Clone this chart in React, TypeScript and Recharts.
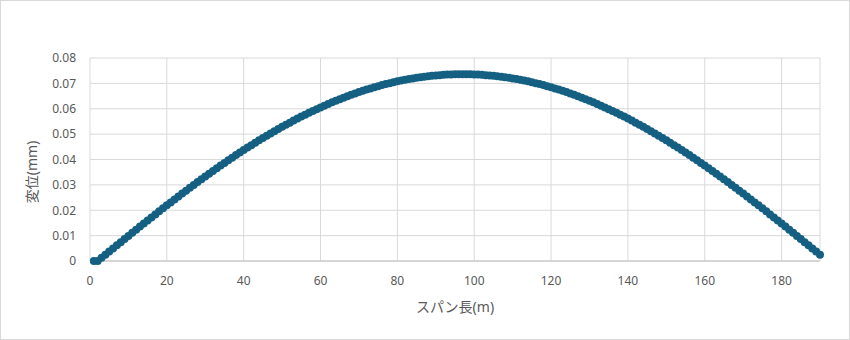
import { ScatterChart, Scatter, XAxis, YAxis, CartesianGrid, ZAxis } from "recharts";

// span stations (m)
const spanX = [
  1, 2, 3, 4, 5, 6, 7, 8, 9, 10, 11, 12, 13, 14, 15, 16, 17, 18, 19, 20,
  21, 22, 23, 24, 25, 26, 27, 28, 29, 30, 31, 32, 33, 34, 35, 36, 37, 38, 39, 40,
  41, 42, 43, 44, 45, 46, 47, 48, 49, 50, 51, 52, 53, 54, 55, 56, 57, 58, 59, 60,
  61, 62, 63, 64, 65, 66, 67, 68, 69, 70, 71, 72, 73, 74, 75, 76, 77, 78, 79, 80,
  81, 82, 83, 84, 85, 86, 87, 88, 89, 90, 91, 92, 93, 94, 95, 96, 97, 98, 99, 100,
  101, 102, 103, 104, 105, 106, 107, 108, 109, 110, 111, 112, 113, 114, 115, 116, 117, 118, 119, 120,
  121, 122, 123, 124, 125, 126, 127, 128, 129, 130, 131, 132, 133, 134, 135, 136, 137, 138, 139, 140,
  141, 142, 143, 144, 145, 146, 147, 148, 149, 150, 151, 152, 153, 154, 155, 156, 157, 158, 159, 160,
  161, 162, 163, 164, 165, 166, 167, 168, 169, 170, 171, 172, 173, 174, 175, 176, 177, 178, 179, 180,
  181, 182, 183, 184, 185, 186, 187, 188, 189, 190,
];

// deflection (mm)
const deflection = [
  0, 0, 0.00124, 0.00248, 0.00372, 0.00495, 0.00619, 0.00742, 0.00865, 0.00988,
  0.01111, 0.01233, 0.01355, 0.01476, 0.01597, 0.01717, 0.01837, 0.01956, 0.02075, 0.02193,
  0.0231, 0.02427, 0.02543, 0.02658, 0.02773, 0.02886, 0.02999, 0.03111, 0.03221, 0.03331,
  0.0344, 0.03548, 0.03655, 0.03761, 0.03865, 0.03969, 0.04071, 0.04173, 0.04273, 0.04371,
  0.04469, 0.04565, 0.0466, 0.04754, 0.04846, 0.04937, 0.05027, 0.05115, 0.05201, 0.05287,
  0.0537, 0.05453, 0.05533, 0.05612, 0.0569, 0.05766, 0.05841, 0.05913, 0.05985, 0.06054,
  0.06122, 0.06188, 0.06253, 0.06316, 0.06377, 0.06436, 0.06494, 0.0655, 0.06604, 0.06656,
  0.06707, 0.06756, 0.06802, 0.06848, 0.06891, 0.06932, 0.06972, 0.07009, 0.07045, 0.07079,
  0.07111, 0.07141, 0.07169, 0.07195, 0.0722, 0.07242, 0.07262, 0.07281, 0.07298, 0.07312,
  0.07325, 0.07336, 0.07345, 0.07351, 0.07356, 0.07359, 0.0736, 0.07359, 0.07356, 0.07351,
  0.07345, 0.07336, 0.07325, 0.07312, 0.07298, 0.07281, 0.07262, 0.07242, 0.0722, 0.07195,
  0.07169, 0.07141, 0.07111, 0.07079, 0.07045, 0.07009, 0.06972, 0.06932, 0.06891, 0.06848,
  0.06802, 0.06756, 0.06707, 0.06656, 0.06604, 0.0655, 0.06494, 0.06436, 0.06377, 0.06316,
  0.06253, 0.06188, 0.06122, 0.06054, 0.05985, 0.05913, 0.05841, 0.05766, 0.0569, 0.05612,
  0.05533, 0.05453, 0.0537, 0.05287, 0.05201, 0.05115, 0.05027, 0.04937, 0.04846, 0.04754,
  0.0466, 0.04565, 0.04469, 0.04371, 0.04273, 0.04173, 0.04071, 0.03969, 0.03865, 0.03761,
  0.03655, 0.03548, 0.0344, 0.03331, 0.03221, 0.03111, 0.02999, 0.02886, 0.02773, 0.02658,
  0.02543, 0.02427, 0.0231, 0.02193, 0.02075, 0.01956, 0.01837, 0.01717, 0.01597, 0.01476,
  0.01355, 0.01233, 0.01111, 0.00988, 0.00865, 0.00742, 0.00619, 0.00495, 0.00372, 0.00248,
];

const xTicks = [0, 20, 40, 60, 80, 100, 120, 140, 160, 180];
const yTicks = [0, 0.01, 0.02, 0.03, 0.04, 0.05, 0.06, 0.07, 0.08];

const data = spanX.map((x, i) => ({ x, y: deflection[i] }));

const font = "'Noto Sans', 'Noto Sans CJK JP', sans-serif";
const textColor = "#595959";

export default function App() {
  return (
    <div style={{ position: "absolute", left: 0, top: 0, width: 850, height: 340, background: "#fff" }}>
      <ScatterChart width={850} height={340} margin={{ top: 58, right: 30, bottom: 49, left: 30 }}>
        <CartesianGrid stroke="#d9d9d9" />
        <XAxis
          type="number"
          dataKey="x"
          domain={[0, 190]}
          ticks={xTicks}
          height={30}
          stroke="#bfbfbf"
          tickLine={false}
          tickMargin={9}
          tick={{ fill: textColor, fontSize: 12, fontFamily: font }}
        />
        <YAxis
          type="number"
          dataKey="y"
          domain={[0, 0.08]}
          ticks={yTicks}
          width={60}
          axisLine={false}
          tickLine={false}
          tickMargin={8}
          tick={{ fill: textColor, fontSize: 12, fontFamily: font }}
        />
        <ZAxis range={[60, 60]} />
        <Scatter
          data={data}
          fill="#156082"
          isAnimationActive={false}
          shape={(p: any) => <circle cx={p.cx} cy={p.cy} r={4} fill="#156082" />}
        />
        <text x={455} y={312} textAnchor="middle" fill={textColor} fontSize={14} fontFamily={font}>
          スパン長(m)
        </text>
        <text
          x={37}
          y={172}
          textAnchor="middle"
          fill={textColor}
          fontSize={14}
          fontFamily={font}
          transform="rotate(-90, 37, 172)"
        >
          変位(mm)
        </text>
      </ScatterChart>
      <div
        style={{
          position: "absolute",
          left: 0,
          top: 0,
          width: 850,
          height: 340,
          boxSizing: "border-box",
          border: "1px solid #d9d9d9",
          pointerEvents: "none",
        }}
      />
    </div>
  );
}
